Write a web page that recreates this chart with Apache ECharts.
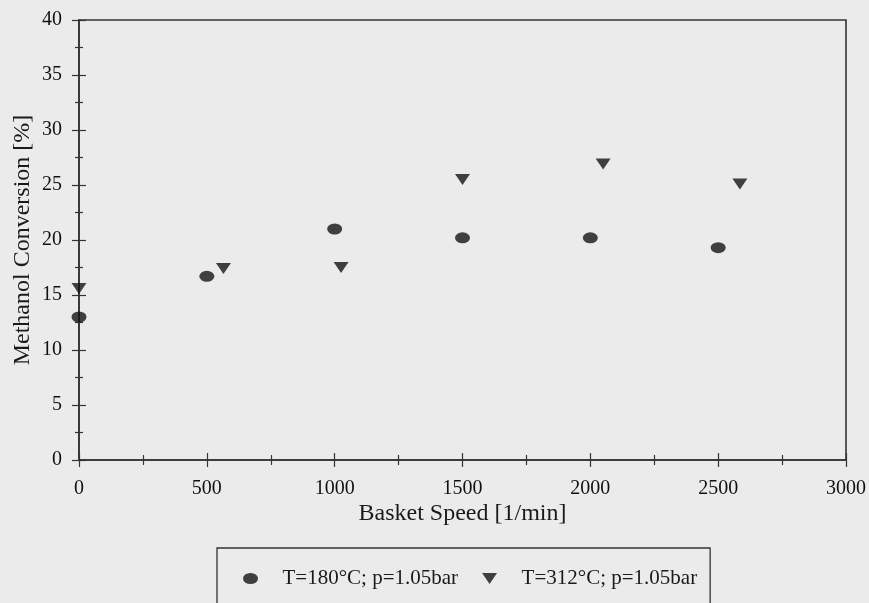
<!DOCTYPE html>
<html>
<head>
<meta charset="utf-8">
<style>
  html, body { margin: 0; padding: 0; background: #ebebeb; }
  #chart { width: 869px; height: 603px; }
</style>
<script src="https://cdn.jsdelivr.net/npm/echarts@6/dist/echarts.min.js"></script>
</head>
<body>
<div id="chart"></div>
<script>
// Methanol conversion vs. basket speed at two reactor temperatures
const seriesNames = ['T=180°C; p=1.05bar', 'T=312°C; p=1.05bar'];
const speed180 = [0, 500, 1000, 1500, 2000, 2500];
const conv180  = [13.0, 16.7, 21.0, 20.2, 20.2, 19.3];
const speed312 = [0, 565, 1025, 1500, 2050, 2585];
const conv312  = [15.6, 17.4, 17.5, 25.5, 26.9, 25.1];

const ink = '#1a1a1a';
const axisInk = '#333';
const serif = '"Liberation Serif", "DejaVu Serif", serif';
const ellipse = 'path://M0 5.5 A7.5 5.5 0 1 0 15 5.5 A7.5 5.5 0 1 0 0 5.5 Z';
const triDown = 'path://M0 0 L15 0 L7.5 11 Z';

function pairs(xs, ys) { return xs.map((x, i) => [x, ys[i]]); }
const plain = v => String(v);

const xBase = { type: 'value', min: 0, max: 3000, interval: 500, gridIndex: 0, position: 'bottom', offset: 0, splitLine: { show: false } };
const yBase = { type: 'value', min: 0, max: 40, interval: 5, gridIndex: 0, position: 'left', offset: 0, splitLine: { show: false } };
const tickLine = { color: axisInk, width: 1.2 };

const chart = echarts.init(document.getElementById('chart'), null, { renderer: 'canvas' });
chart.setOption({
  backgroundColor: '#ebebeb',
  animation: false,
  textStyle: { fontFamily: serif, color: ink },
  grid: { left: 79, right: 22, top: 20, bottom: 143, show: true, borderColor: axisInk, borderWidth: 1.6, backgroundColor: 'transparent' },
  xAxis: [
    // labelled axis with inward ticks
    Object.assign({}, xBase, {
      name: 'Basket Speed [1/min]', nameLocation: 'middle', nameGap: 42, nameMoveOverlap: false,
      nameTextStyle: { fontFamily: serif, fontSize: 24, color: ink },
      axisLine: { show: true, lineStyle: { color: axisInk, width: 1.6 } },
      axisTick: { show: true, inside: true, length: 7, lineStyle: tickLine },
      minorTick: { show: true, splitNumber: 2, length: 5, lineStyle: tickLine },
      axisLabel: { fontFamily: serif, fontSize: 20, color: '#111', margin: 19, formatter: plain }
    }),
    // companion axis carrying the outward half of each tick
    Object.assign({}, xBase, {
      axisLine: { show: false },
      axisTick: { show: true, inside: false, length: 7, lineStyle: tickLine },
      minorTick: { show: true, splitNumber: 2, length: 5, lineStyle: tickLine },
      axisLabel: { show: false }
    })
  ],
  yAxis: [
    Object.assign({}, yBase, {
      name: 'Methanol Conversion [%]', nameLocation: 'middle', nameGap: 44, nameMoveOverlap: false,
      nameTextStyle: { fontFamily: serif, fontSize: 24, color: ink },
      axisLine: { show: true, lineStyle: { color: axisInk, width: 1.6 } },
      axisTick: { show: true, inside: true, length: 7, lineStyle: tickLine },
      minorTick: { show: true, splitNumber: 2, length: 4, lineStyle: tickLine },
      axisLabel: { fontFamily: serif, fontSize: 20, color: '#111', margin: 17, formatter: plain }
    }),
    Object.assign({}, yBase, {
      axisLine: { show: false },
      axisTick: { show: true, inside: false, length: 7, lineStyle: tickLine },
      minorTick: { show: true, splitNumber: 2, length: 4, lineStyle: tickLine },
      axisLabel: { show: false }
    })
  ],
  legend: {
    left: 217, top: 548,
    padding: [20, 13, 40, 26],
    itemGap: 24, itemWidth: 16, itemHeight: 11,
    borderColor: axisInk, borderWidth: 1.3,
    backgroundColor: 'transparent',
    textStyle: { fontFamily: serif, fontSize: 21, color: ink, padding: [0, 0, 0, 19] },
    data: [
      { name: seriesNames[0], icon: ellipse },
      { name: seriesNames[1], icon: triDown }
    ]
  },
  series: [
    {
      name: seriesNames[0], type: 'scatter', symbol: ellipse, symbolSize: [15, 11],
      itemStyle: { color: '#141414' },
      data: pairs(speed180, conv180)
    },
    {
      name: seriesNames[1], type: 'scatter', symbol: triDown, symbolSize: [15, 11],
      itemStyle: { color: '#141414' },
      data: pairs(speed312, conv312)
    }
  ]
});
</script>
</body>
</html>
